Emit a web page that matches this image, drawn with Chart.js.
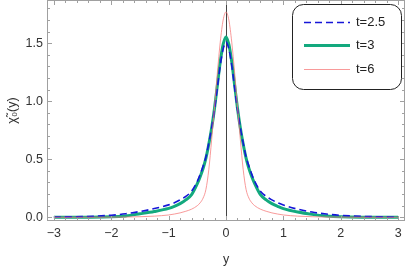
<!DOCTYPE html>
<html>
<head>
<meta charset="utf-8">
<script src="https://cdn.jsdelivr.net/npm/chart.js@4"></script>
<style>
  html, body { margin: 0; padding: 0; background: #fff; }
  #wrap { width: 407px; height: 271px; position: relative; }
</style>
</head>
<body>
<div id="wrap"><canvas id="chart"></canvas></div>
<script>
// sample positions along y
const xs = [-3, -2.5, -2, -1.75, -1.5, -1.25, -1, -0.9, -0.8, -0.7, -0.6, -0.5, -0.45, -0.4, -0.35, -0.3, -0.25, -0.2, -0.15, -0.1, -0.05,
  0, 0.05, 0.1, 0.15, 0.2, 0.25, 0.3, 0.35, 0.4, 0.45, 0.5, 0.6, 0.7, 0.8, 0.9, 1, 1.25, 1.5, 1.75, 2, 2.5, 3];

const t25 = [0.002, 0.006, 0.018, 0.03, 0.05, 0.075, 0.107, 0.125, 0.15, 0.18, 0.225, 0.31, 0.37, 0.44, 0.52, 0.64, 0.77, 0.93, 1.12, 1.31, 1.45,
  1.51, 1.45, 1.31, 1.12, 0.93, 0.77, 0.64, 0.52, 0.44, 0.37, 0.31, 0.225, 0.18, 0.15, 0.125, 0.105, 0.07, 0.045, 0.028, 0.017, 0.006, 0.002];

const t3 = [0, 0.001, 0.004, 0.012, 0.03, 0.05, 0.077, 0.095, 0.118, 0.15, 0.195, 0.29, 0.35, 0.42, 0.51, 0.63, 0.77, 0.94, 1.14, 1.34, 1.49,
  1.555, 1.49, 1.34, 1.14, 0.94, 0.77, 0.63, 0.51, 0.42, 0.35, 0.29, 0.195, 0.15, 0.118, 0.095, 0.075, 0.045, 0.025, 0.011, 0.004, 0.001, 0];

const t6 = [0, 0, 0.001, 0.002, 0.005, 0.01, 0.02, 0.028, 0.038, 0.052, 0.07, 0.1, 0.125, 0.165, 0.24, 0.41, 0.67, 0.95, 1.25, 1.51, 1.70,
  1.77, 1.70, 1.51, 1.25, 0.95, 0.67, 0.41, 0.24, 0.165, 0.125, 0.1, 0.07, 0.052, 0.038, 0.028, 0.02, 0.01, 0.005, 0.002, 0.001, 0, 0];

const xTicks = [-3, -2, -1, 0, 1, 2, 3];
const yTicks = [0, 0.5, 1, 1.5];
const labels = ['t=2.5', 't=3', 't=6'];

const FONT = "'Liberation Sans', Arial, sans-serif";
const FRAME = '#a0a0a0';

const pts = ys => xs.map((x, i) => ({ x: x, y: ys[i] }));

// frame, inward ticks, the y=0 axis line and the legend box
const framePlugin = {
  id: 'frame',
  beforeDatasetsDraw(chart) {
    const { ctx, chartArea: a, scales: { x } } = chart;
    ctx.save();
    ctx.strokeStyle = '#444';
    ctx.lineWidth = 1;
    const x0 = Math.round(x.getPixelForValue(0)) + 0.5;
    ctx.beginPath();
    ctx.moveTo(x0, a.top);
    ctx.lineTo(x0, a.bottom);
    ctx.stroke();
    ctx.restore();
  },
  afterDatasetsDraw(chart) {
    const { ctx, chartArea: a, scales: { x, y } } = chart;
    ctx.save();
    ctx.strokeStyle = FRAME;
    ctx.lineWidth = 1;
    ctx.strokeRect(Math.round(a.left) + 0.5, Math.round(a.top) + 0.5,
      Math.round(a.right - a.left) - 1, Math.round(a.bottom - a.top) - 1);
    ctx.beginPath();
    for (let k = -16; k <= 16; k++) {
      const v = k * 0.2;
      const px = Math.round(x.getPixelForValue(v)) + 0.5;
      if (px < a.left || px > a.right) continue;
      const len = (k % 5 === 0) ? 5 : 3;
      ctx.moveTo(px, a.bottom); ctx.lineTo(px, a.bottom - len);
      ctx.moveTo(px, a.top); ctx.lineTo(px, a.top + len);
    }
    for (let k = 0; k <= 18; k++) {
      const v = k * 0.1;
      const py = Math.round(y.getPixelForValue(v)) + 0.5;
      if (py < a.top || py > a.bottom) continue;
      const len = (k % 5 === 0) ? 5 : 3;
      ctx.moveTo(a.left, py); ctx.lineTo(a.left + len, py);
      ctx.moveTo(a.right, py); ctx.lineTo(a.right - len, py);
    }
    ctx.stroke();

    // legend
    const bx = 292.5, by = 4.5, bw = 109, bh = 85;
    ctx.beginPath();
    ctx.roundRect(bx, by, bw, bh, 11);
    ctx.fillStyle = '#fff';
    ctx.fill();
    ctx.strokeStyle = '#222';
    ctx.lineWidth = 1;
    ctx.stroke();
    const rows = [22.5, 45.5, 69.5];
    chart.data.datasets.forEach((ds, i) => {
      ctx.beginPath();
      ctx.strokeStyle = ds.borderColor;
      ctx.lineWidth = ds.borderWidth;
      ctx.setLineDash(ds.borderDash || []);
      ctx.moveTo(304, rows[i]);
      ctx.lineTo(350, rows[i]);
      ctx.stroke();
      ctx.setLineDash([]);
      ctx.fillStyle = '#222';
      ctx.font = '13px ' + FONT;
      ctx.textBaseline = 'middle';
      ctx.fillText(ds.label, 356, rows[i]);
    });
    ctx.restore();
  }
};

new Chart(document.getElementById('chart'), {
  type: 'line',
  data: {
    datasets: [
      {
        label: labels[0],
        data: pts(t25),
        borderColor: '#1616d8',
        borderWidth: 1.6,
        borderDash: [7, 4],
        order: 1,
      },
      {
        label: labels[1],
        data: pts(t3),
        borderColor: '#13a97e',
        borderWidth: 3,
        order: 2,
      },
      {
        label: labels[2],
        data: pts(t6),
        borderColor: 'rgba(245, 120, 120, 0.75)',
        borderWidth: 1,
        order: 0,
      },
    ],
  },
  options: {
    responsive: true,
    maintainAspectRatio: false,
    animation: false,
    devicePixelRatio: 1,
    layout: { padding: { top: 0, right: 2, left: 0, bottom: 0 } },
    elements: {
      point: { radius: 0 },
      line: { cubicInterpolationMode: 'monotone', fill: false },
    },
    plugins: {
      legend: { display: false },
      tooltip: { enabled: false },
    },
    scales: {
      x: {
        type: 'linear',
        min: -3.12,
        max: 3.12,
        afterFit: s => { s.height = 50; s.paddingLeft = 0; s.paddingRight = 0; },
        afterBuildTicks: s => { s.ticks = xTicks.map(v => ({ value: v })); },
        grid: { display: false, drawTicks: false },
        border: { display: false },
        ticks: {
          color: '#333',
          padding: 5,
          font: { family: FONT, size: 12.5 },
          callback: v => (v < 0 ? '\u2212' + Math.abs(v) : String(v)),
        },
        title: {
          display: true,
          text: 'y',
          color: '#333',
          padding: { top: 17 },
          font: { family: FONT, size: 12.5 },
        },
      },
      y: {
        type: 'linear',
        min: -0.032,
        max: 1.873,
        afterFit: s => { s.width = 47; s.paddingTop = 0; s.paddingBottom = 0; },
        afterBuildTicks: s => { s.ticks = yTicks.map(v => ({ value: v })); },
        grid: { display: false, drawTicks: false },
        border: { display: false },
        ticks: {
          color: '#333',
          padding: 4,
          font: { family: FONT, size: 12.5 },
          callback: v => v.toFixed(1),
        },
        title: {
          display: true,
          text: 'χ\u0303\u2080(y)',
          color: '#333',
          padding: { bottom: 0, top: 5 },
          font: { family: FONT, size: 12.5 },
        },
      },
    },
  },
  plugins: [framePlugin],
});
</script>
</body>
</html>
